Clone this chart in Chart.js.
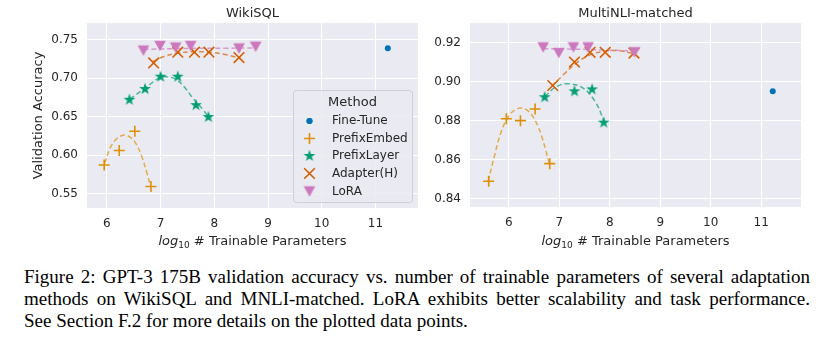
<!DOCTYPE html>
<html>
<head>
<meta charset="utf-8">
<script src="https://cdn.jsdelivr.net/npm/chart.js@4.4.0/dist/chart.umd.min.js"></script>
<style>
  body { margin: 0; background: #fff; width: 825px; height: 341px; position: relative; overflow: hidden; }
  #wiki { position: absolute; left: 0; top: 0; }
  #mnli { position: absolute; left: 420px; top: 0; }
  .caption { position: absolute; left: 24px; top: 266px; width: 786px; font-family: "Liberation Serif", serif; font-size: 19px; line-height: 22px; color: #000; }
  .caption div { white-space: nowrap; text-align: justify; text-align-last: justify; }
  .caption div.last { text-align-last: left; }
</style>
</head>
<body>
<canvas id="wiki" width="427" height="255"></canvas>
<canvas id="mnli" width="405" height="255"></canvas>
<div class="caption">
  <div>Figure 2: GPT-3 175B validation accuracy vs. number of trainable parameters of several adaptation</div>
  <div>methods on WikiSQL and MNLI-matched. LoRA exhibits better scalability and task performance.</div>
  <div class="last">See Section F.2 for more details on the plotted data points.</div>
</div>
<script>
const methods = ["Fine-Tune", "PrefixEmbed", "PrefixLayer", "Adapter(H)", "LoRA"];
const xTicks = [6, 7, 8, 9, 10, 11];
const wikiYTicks = [0.55, 0.60, 0.65, 0.70, 0.75];
const mnliYTicks = [0.84, 0.86, 0.88, 0.90, 0.92];

// WikiSQL: [log10 params, accuracy]
const wikiFineTune = [[11.23, 0.739]];
const wikiPrefixEmbed = [[5.95, 0.587], [6.23, 0.606], [6.52, 0.631], [6.82, 0.559]];
const wikiPrefixEmbedFit = [[5.96, 0.589], [6.06, 0.609], [6.18, 0.621], [6.32, 0.626], [6.44, 0.623], [6.54, 0.615], [6.65, 0.598], [6.74, 0.578], [6.81, 0.560]];
const wikiPrefixLayer = [[6.42, 0.672], [6.71, 0.686], [7.0, 0.702], [7.32, 0.702], [7.66, 0.665], [7.89, 0.6495]];
const wikiPrefixLayerFit = [[6.43, 0.673], [6.71, 0.687], [6.99, 0.701], [7.15, 0.7015], [7.30, 0.698], [7.45, 0.688], [7.58, 0.676], [7.79, 0.659], [7.9, 0.649]];
const wikiAdapter = [[6.87, 0.720], [7.32, 0.734], [7.63, 0.734], [7.9, 0.734], [8.46, 0.727]];
const wikiAdapterFit = [[6.85, 0.7215], [7.05, 0.728], [7.30, 0.7325], [7.58, 0.7345], [7.89, 0.734], [8.2, 0.731], [8.48, 0.726]];
const wikiLora = [[6.68, 0.736], [6.99, 0.742], [7.28, 0.740], [7.56, 0.742], [8.46, 0.7387], [8.77, 0.741]];
const wikiLoraFit = [[6.68, 0.7375], [7.2, 0.7385], [7.7, 0.739], [8.2, 0.7392], [8.77, 0.7395]];

// MultiNLI-matched
const mnliFineTune = [[11.23, 0.895]];
const mnliPrefixEmbed = [[5.6, 0.849], [5.95, 0.881], [6.23, 0.880], [6.52, 0.886], [6.81, 0.858]];
const mnliPrefixEmbedFit = [[5.59, 0.849], [5.72, 0.8625], [5.85, 0.8745], [5.99, 0.882], [6.12, 0.8855], [6.25, 0.8865], [6.38, 0.885], [6.48, 0.882], [6.58, 0.877], [6.65, 0.872], [6.73, 0.865], [6.81, 0.857]];
const mnliPrefixLayer = [[6.71, 0.892], [7.3, 0.895], [7.65, 0.896], [7.88, 0.879]];
const mnliPrefixLayerFit = [[6.71, 0.8924], [6.95, 0.8975], [7.18, 0.8989], [7.47, 0.8967], [7.71, 0.8898], [7.88, 0.8804]];
const mnliAdapter = [[6.87, 0.898], [7.3, 0.910], [7.61, 0.915], [7.91, 0.915], [8.48, 0.9146]];
const mnliAdapterFit = [[6.85, 0.8975], [7.08, 0.9035], [7.34, 0.9095], [7.61, 0.9137], [7.87, 0.9154], [8.14, 0.9159], [8.43, 0.9146], [8.5, 0.914]];
const mnliLora = [[6.68, 0.9175], [6.99, 0.9146], [7.28, 0.9175], [7.57, 0.9175], [8.49, 0.915]];
const mnliLoraFit = [[6.68, 0.9168], [7.3, 0.9166], [7.9, 0.9162], [8.49, 0.9156]];

const colors = ["#0173b2", "#de8f05", "#029e73", "#d55e00", "#cc78bc"];
const FONT = "'DejaVu Sans', sans-serif";
const TEXT = "#262626";

Chart.defaults.font.family = FONT;
Chart.defaults.font.size = 12;
Chart.defaults.color = TEXT;
Chart.defaults.animation = false;

function makeMarker(kind, color) {
  const c = document.createElement("canvas");
  c.width = 16;
  c.height = 16;
  const g = c.getContext("2d");
  g.fillStyle = color;
  g.beginPath();
  if (kind === "star") {
    for (let i = 0; i < 10; i++) {
      const r = i % 2 ? 2.4 : 6.2;
      const a = -Math.PI / 2 + (i * Math.PI) / 5;
      g.lineTo(8 + r * Math.cos(a), 8 + r * Math.sin(a));
    }
  } else {
    g.moveTo(2.2, 2.8);
    g.lineTo(13.8, 2.8);
    g.lineTo(8, 13.2);
  }
  g.closePath();
  g.fill();
  return c;
}

const starImg = makeMarker("star", colors[2]);
const triImg = makeMarker("tri", colors[4]);

const markers = [
  { pointStyle: "circle", radius: 3, borderWidth: 0, fill: true },
  { pointStyle: "cross", radius: 5.5, borderWidth: 1.6 },
  { pointStyle: starImg, radius: 6, borderWidth: 0 },
  { pointStyle: "crossRot", radius: 7.5, borderWidth: 1.6 },
  { pointStyle: triImg, radius: 6, borderWidth: 0 },
];

const pts = (arr) => arr.map(([x, y]) => ({ x, y }));

function pointSet(i, data) {
  const m = markers[i];
  return {
    label: methods[i],
    data: pts(data),
    showLine: false,
    pointStyle: m.pointStyle,
    pointRadius: m.radius,
    pointBorderWidth: m.borderWidth,
    pointBackgroundColor: colors[i],
    pointBorderColor: colors[i],
    order: 5 - i,
  };
}

function fitSet(i, data) {
  return {
    label: methods[i] + " fit",
    data: pts(data),
    showLine: true,
    borderColor: colors[i] + "b0",
    borderWidth: 1.5,
    borderDash: [5, 3],
    tension: 0.4,
    pointRadius: 0,
    order: 20 - i,
  };
}

function drawXLabel(ctx, cx, baseline) {
  const italic = "italic 13px " + FONT;
  const sub = "9px " + FONT;
  const main = "13px " + FONT;
  const rest = " # Trainable Parameters";
  ctx.font = italic;
  const w1 = ctx.measureText("log").width;
  ctx.font = sub;
  const w2 = ctx.measureText("10").width;
  ctx.font = main;
  const w3 = ctx.measureText(rest).width;
  let x = cx - (w1 + w2 + w3) / 2;
  ctx.fillStyle = TEXT;
  ctx.textAlign = "left";
  ctx.textBaseline = "alphabetic";
  ctx.font = italic;
  ctx.fillText("log", x, baseline);
  x += w1;
  ctx.font = sub;
  ctx.fillText("10", x, baseline + 3);
  x += w2;
  ctx.font = main;
  ctx.fillText(rest, x, baseline);
}

function textPlugin(title, withYLabel, withLegend) {
  return {
    id: "panelText",
    afterDatasetsDraw(chart) {
      const ctx = chart.ctx;
      const a = chart.chartArea;
      const cx = (a.left + a.right) / 2;
      ctx.save();
      ctx.fillStyle = TEXT;
      ctx.font = "13px " + FONT;
      ctx.textAlign = "center";
      ctx.textBaseline = "alphabetic";
      ctx.fillText(title, cx, 17);
      drawXLabel(ctx, cx, 245);
      if (withYLabel) {
        ctx.save();
        ctx.translate(42, (a.top + a.bottom) / 2);
        ctx.rotate(-Math.PI / 2);
        ctx.font = "13px " + FONT;
        ctx.textAlign = "center";
        ctx.fillStyle = TEXT;
        ctx.fillText("Validation Accuracy", 0, 0);
        ctx.restore();
      }
      if (withLegend) drawLegend(ctx);
      ctx.restore();
    },
  };
}

function drawLegend(ctx) {
  const x0 = 293, y0 = 90, w = 119, h = 112, r = 3;
  ctx.beginPath();
  ctx.roundRect(x0 + 0.5, y0 + 0.5, w, h, r);
  ctx.fillStyle = "rgba(234,234,242,0.85)";
  ctx.fill();
  ctx.strokeStyle = "#cfcfd6";
  ctx.lineWidth = 1;
  ctx.stroke();
  ctx.fillStyle = TEXT;
  ctx.font = "13px " + FONT;
  ctx.textAlign = "center";
  ctx.textBaseline = "middle";
  ctx.fillText("Method", x0 + w / 2, 103);
  ctx.font = "12px " + FONT;
  const rows = [121, 138.5, 156, 173.5, 191.5];
  methods.forEach((name, i) => {
    const m = markers[i];
    ctx.fillStyle = colors[i];
    ctx.strokeStyle = colors[i];
    ctx.lineWidth = m.borderWidth || 1;
    Chart.helpers.drawPoint(ctx, { pointStyle: m.pointStyle, radius: m.radius, rotation: 0, borderWidth: m.borderWidth }, 309.5, rows[i]);
    if (m.fill) {
      ctx.beginPath();
      ctx.arc(309.5, rows[i], m.radius, 0, Math.PI * 2);
      ctx.fill();
    }
    ctx.fillStyle = TEXT;
    ctx.textAlign = "left";
    ctx.fillText(name, 332, rows[i]);
  });
}

function makeChart(id, cfg) {
  return new Chart(document.getElementById(id), {
    type: "scatter",
    data: { datasets: cfg.datasets },
    options: {
      responsive: false,
      layout: { padding: cfg.padding },
      plugins: { legend: { display: false }, tooltip: { enabled: false }, title: { display: false } },
      scales: {
        x: {
          type: "linear",
          min: cfg.xMin,
          max: cfg.xMax,
          afterBuildTicks: (s) => { s.ticks = xTicks.map((v) => ({ value: v })); },
          afterFit: (s) => { s.height = cfg.xHeight; },
          grid: { color: "#ffffff", lineWidth: 1, drawTicks: false },
          border: { display: false },
          ticks: { padding: 9, color: TEXT, font: { size: 12 }, callback: (v) => String(v) },
        },
        y: {
          type: "linear",
          min: cfg.yMin,
          max: cfg.yMax,
          afterBuildTicks: (s) => { s.ticks = cfg.yTicks.map((v) => ({ value: v })); },
          afterFit: (s) => { s.width = cfg.yWidth; },
          grid: { color: "#ffffff", lineWidth: 1, drawTicks: false },
          border: { display: false },
          ticks: { padding: 9, color: TEXT, font: { size: 12 }, callback: (v) => v.toFixed(2) },
        },
      },
    },
    plugins: [
      {
        id: "bg",
        beforeDraw(chart) {
          const a = chart.chartArea;
          chart.ctx.save();
          chart.ctx.fillStyle = "#eaeaf2";
          chart.ctx.fillRect(a.left, a.top, a.right - a.left, a.bottom - a.top);
          chart.ctx.restore();
        },
      },
      textPlugin(cfg.title, cfg.yLabel, cfg.legend),
    ],
  });
}

makeChart("wiki", {
  title: "WikiSQL",
  yLabel: true,
  legend: true,
  xMin: 5.63, xMax: 11.79, yMin: 0.531, yMax: 0.772,
  yTicks: wikiYTicks,
  yWidth: 87, xHeight: 47,
  padding: { left: 0, top: 23, right: 0, bottom: 0 },
  datasets: [
    pointSet(0, wikiFineTune),
    pointSet(1, wikiPrefixEmbed),
    pointSet(2, wikiPrefixLayer),
    pointSet(3, wikiAdapter),
    pointSet(4, wikiLora),
    fitSet(1, wikiPrefixEmbedFit),
    fitSet(2, wikiPrefixLayerFit),
    fitSet(3, wikiAdapterFit),
    fitSet(4, wikiLoraFit),
  ],
});

makeChart("mnli", {
  title: "MultiNLI-matched",
  yLabel: false,
  legend: false,
  xMin: 5.23, xMax: 11.79, yMin: 0.8358, yMax: 0.930,
  yTicks: mnliYTicks,
  yWidth: 50, xHeight: 48,
  padding: { left: 0, top: 23, right: 24, bottom: 0 },
  datasets: [
    pointSet(0, mnliFineTune),
    pointSet(1, mnliPrefixEmbed),
    pointSet(2, mnliPrefixLayer),
    pointSet(3, mnliAdapter),
    pointSet(4, mnliLora),
    fitSet(1, mnliPrefixEmbedFit),
    fitSet(2, mnliPrefixLayerFit),
    fitSet(3, mnliAdapterFit),
    fitSet(4, mnliLoraFit),
  ],
});
</script>
</body>
</html>
